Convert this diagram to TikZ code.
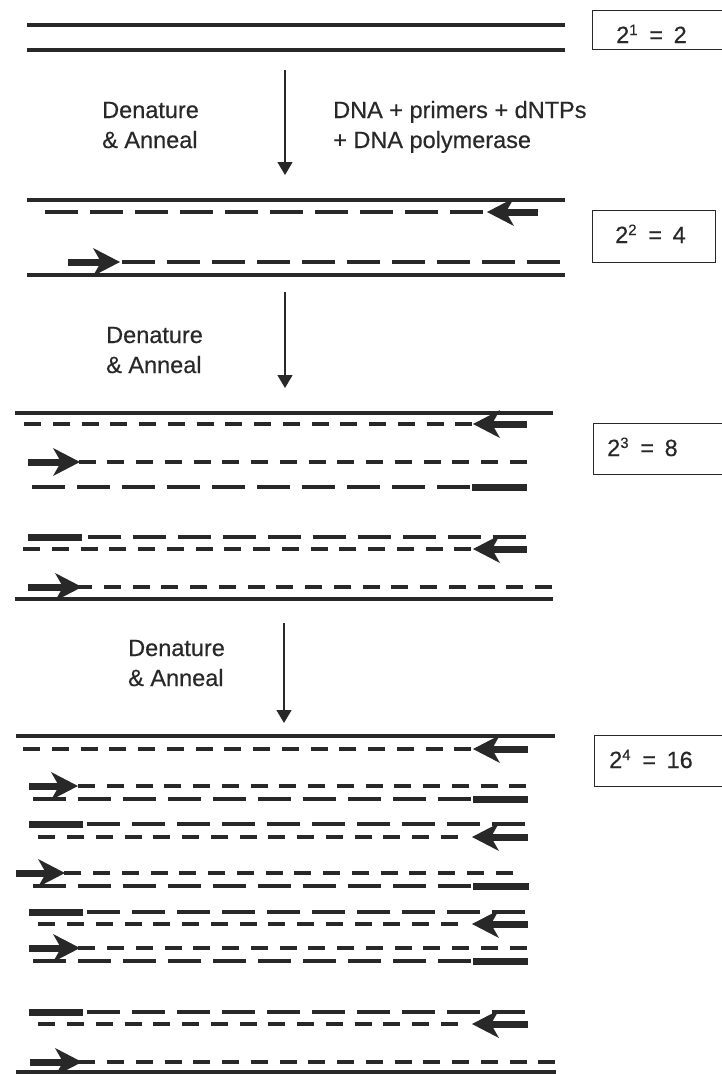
\documentclass[tikz,border=0pt]{standalone}
\usepackage{fontspec}
\setmainfont{Liberation Sans}[FakeBold=0.4]
\usetikzlibrary{arrows.meta}
\definecolor{ink}{RGB}{40,40,40}

% arrowheads of the primers: tip at (#1,#2)
\newcommand\headL[2]{\fill[ink] (#1,#2) -- ++(27,-14) -- ++(-8,14) -- ++(8,14) -- cycle;}
\newcommand\headR[2]{\fill[ink] (#1,#2) -- ++(-27,-14) -- ++(8,14) -- ++(-8,14) -- cycle;}
% power of two, as in 2^n
\newcommand\pw[2]{#1\raisebox{8pt}{\fontsize{15}{15}\selectfont #2}}

\begin{document}
\begin{tikzpicture}[x=1pt,y=-1pt,
  strand/.style={ink, line width=4pt},
  longdash/.style={ink, line width=3.8pt, dash pattern=on 33pt off 12pt},
  shortdash/.style={ink, line width=3.5pt, dash pattern=on 17pt off 11.75pt},
  primer/.style={ink, line width=7pt},
  stepline/.style={ink, line width=1.4pt, -{Triangle[length=13pt,width=15pt]}},
  steptext/.style={font=\fontsize{23.5}{28}\selectfont, text=ink, inner sep=0pt, anchor=base west},
  countbox/.style={draw=ink, line width=1.4pt, inner sep=0pt, anchor=north west},
]
\useasboundingbox (0,0) rectangle (721,1074);

% ---- cycle 0: template duplex
\draw[strand] (27,25) -- (565,25);
\draw[strand] (27,50) -- (565,50);
\node (box1) [countbox, minimum width=140pt, minimum height=39pt] at (592,10) {};
\node (c1) [steptext] at (616,43) {\pw{2}{1}\hspace{0.5em}=\hspace{0.45em}2};

% ---- step 1
\node (d1) [steptext] at (102,118) {Denature};
\node (e1) [steptext] at (102,148) {\& Anneal};
\node (r1) [steptext] at (333,118) {DNA + primers + dNTPs};
\node (p1) [steptext] at (333,148) {+ DNA polymerase};
\coordinate (a1s) at (285,70);
\coordinate (a1e) at (285,175);
\draw[stepline] (a1s) -- (a1e);

% ---- cycle 1
\draw[strand] (27,200) -- (565,200);
\draw[longdash] (45,212) -- (487,212);
\draw[primer] (505,212) -- (538,212); \headL{487}{212}
\draw[longdash] (122,262) -- (562,262);
\draw[primer] (68,262) -- (103,262); \headR{120}{262}
\draw[strand] (27,275) -- (565,275);
\node (box2) [countbox, minimum width=123pt, minimum height=52pt] at (592,210) {};
\node (c2) [steptext] at (615,243) {\pw{2}{2}\hspace{0.5em}=\hspace{0.45em}4};

% ---- step 2
\node (d2) [steptext] at (106,343) {Denature};
\node (e2) [steptext] at (106,373) {\& Anneal};
\coordinate (a2s) at (285,292);
\coordinate (a2e) at (285,388);
\draw[stepline] (a2s) -- (a2e);

% ---- cycle 2
\draw[strand] (15,413) -- (553,413);
\draw[shortdash] (24,424) -- (472,424);
\draw[primer] (490,424) -- (527,424); \headL{473}{424}
\draw[shortdash] (78.5,462) -- (528,462);
\draw[primer] (28,462) -- (63,462); \headR{80}{462}
\draw[longdash] (32,487) -- (472,487);
\draw[primer] (472,487) -- (527,487);

\draw[primer] (28,537) -- (82,537);
\draw[longdash] (87.5,537) -- (527,537);
\draw[shortdash] (23,549) -- (472,549);
\draw[primer] (490,549) -- (527,549); \headL{473}{549}
\draw[shortdash] (75,587) -- (554,587);
\draw[primer] (28,587) -- (65,587); \headR{82}{587}
\draw[strand] (15,599) -- (553,599);
\node (box3) [countbox, minimum width=140pt, minimum height=51pt] at (593,423) {};
\node (c3) [steptext] at (607,456) {\pw{2}{3}\hspace{0.5em}=\hspace{0.45em}8};

% ---- step 3
\node (d3) [steptext] at (128,656) {Denature};
\node (e3) [steptext] at (128,686) {\& Anneal};
\coordinate (a3s) at (284,623);
\coordinate (a3e) at (284,723);
\draw[stepline] (a3s) -- (a3e);

% ---- cycle 3
\draw[strand] (16,736) -- (555,736);
\draw[shortdash] (23,749) -- (472,749);
\draw[primer] (490,749) -- (528,749); \headL{473}{749}
\draw[shortdash] (78,786) -- (528,786);
\draw[primer] (29,786) -- (61,786); \headR{78}{786}
\draw[longdash] (33,799) -- (473,799);
\draw[primer] (473,799) -- (528,799);

\draw[primer] (29,824) -- (83,824);
\draw[longdash] (87,824) -- (528,824);
\draw[shortdash] (38.25,837) -- (460,837);
\draw[primer] (490,837) -- (528,837); \headL{472}{837}

\draw[shortdash] (64.25,873) -- (515,873);
\draw[primer] (16,873) -- (48,873); \headR{65}{873}
\draw[longdash] (33,886) -- (473,886);
\draw[primer] (473,886) -- (529,886);

\draw[primer] (29,912) -- (83,912);
\draw[longdash] (87,912) -- (528,912);
\draw[shortdash] (38.25,924) -- (460,924);
\draw[primer] (490,924) -- (528,924); \headL{472}{924}

\draw[shortdash] (78.25,948) -- (528,948);
\draw[primer] (29,948) -- (63,948); \headR{80}{948}
\draw[longdash] (33,961) -- (473,961);
\draw[primer] (473,961) -- (528,961);

\draw[primer] (29,1012) -- (83,1012);
\draw[longdash] (87,1012) -- (528,1012);
\draw[shortdash] (38.25,1024) -- (460,1024);
\draw[primer] (490,1024) -- (528,1024); \headL{472}{1024}

\draw[shortdash] (78.25,1062) -- (556,1062);
\draw[primer] (30,1062) -- (65,1062); \headR{82}{1062}
\draw[strand] (16,1072) -- (556,1072);
\node (box4) [countbox, minimum width=140pt, minimum height=51pt] at (594,735) {};
\node (c4) [steptext] at (609,768) {\pw{2}{4}\hspace{0.5em}=\hspace{0.45em}16};
\end{tikzpicture}
\end{document}
